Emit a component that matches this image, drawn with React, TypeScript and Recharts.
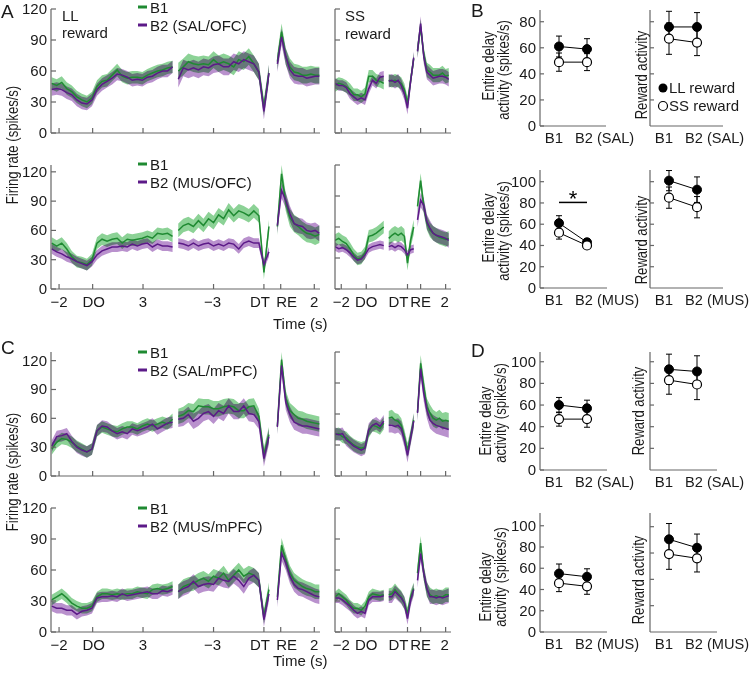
import React from 'react'
import { ComposedChart, Line, Area, XAxis, YAxis, ErrorBar, ReferenceLine } from 'recharts'

const FONT = '"Liberation Sans", Arial, sans-serif'
const GREEN = '#1f8a32'
const PURPLE = '#5c1a88'
const GREEN_BAND = '#8cd296'
const PURPLE_BAND = '#b991cd'
const AXIS = '#666'
const INK = '#1a1a1a'

// ── time axis layout ─────────────────────────────────────────────────────────
// each trace has 3 pieces: aligned on delay onset (DO), delay termination (DT), reward (RE)
// bins: [first bin time, bin step] relative to that piece's event
const LL_BINS = [[-2.44, 0.3], [-5.1, 0.3], [-0.2, 0.25]]
const SS_BINS = [[-2.5, 0.3], [-1.5, 0.25], [-0.25, 0.25]]
// where DO, DT and RE sit on the plotted axis
const LL_EVENTS = [0, 10.2, 11.2]
const SS_EVENTS = [0, 3.3, 4.35]
const LL_DOMAIN = [-2.48, 13.54]
const SS_DOMAIN = [-2.5, 6.78]
const LL_TICKS = [-2, 0, 3, 7.2, 10.2, 11.2, 13.2]
const LL_TICK_LABELS = ['−2', 'DO', '3', '−3', 'DT', 'RE', '2']
const LL_TICK_DX = [0, 1, 0, -1, -4, 6, 0]
const SS_TICKS = [-2, 0, 3.3, 4.35, 6.35]
const SS_TICK_LABELS = ['−2', 'DO', 'DT', 'RE', '2']
const SS_TICK_DX = [0, 0, -9, 0, -1]
const RATE_TICKS = [0, 30, 60, 90, 120]

// ── A: OFC, saline ───────────────────────────────────────────────────────────
const A_SAL_LL_B1 = [
  [48, 46, 49, 43, 40, 35, 32, 30, 34, 45, 50, 51, 56, 61, 55, 53, 54, 54, 53, 56, 58, 60, 61, 63, 64],
  [60, 64, 69, 67, 66, 67, 66, 71, 67, 69, 67, 64, 71, 69, 74, 67, 59, 25, 58],
  [69, 98, 74, 64, 59, 58, 56, 56, 57, 56, 56],
]
const A_SAL_LL_B2 = [
  [42, 43, 42, 39, 37, 32, 29, 28, 32, 42, 47, 50, 53, 57, 56, 54, 51, 52, 51, 54, 55, 58, 60, 60, 64],
  [52, 63, 61, 63, 61, 64, 63, 66, 67, 64, 64, 69, 67, 71, 69, 67, 59, 21, 58],
  [67, 93, 74, 61, 56, 55, 55, 53, 54, 55, 55],
]
const A_SAL_SS_B1 = [
  [46, 48, 47, 45, 42, 37, 37, 35, 38, 55, 55, 51, 50, 48],
  [51, 50, 51, 50, 48, 42, 29, 51, 72],
  [80, 103, 76, 61, 59, 56, 56, 56, 58, 55, 56],
]
const A_SAL_SS_B2 = [
  [48, 46, 46, 44, 38, 35, 32, 34, 32, 43, 51, 48, 54, 55],
  [50, 51, 49, 51, 46, 38, 24, 50, 73],
  [79, 106, 74, 59, 56, 53, 54, 55, 55, 54, 52],
]
// ── A: OFC, muscimol ─────────────────────────────────────────────────────────
const A_MUS_LL_B1 = [
  [47, 44, 47, 41, 33, 28, 27, 25, 30, 47, 51, 49, 51, 52, 47, 51, 50, 51, 52, 54, 52, 57, 56, 57, 54],
  [60, 65, 67, 64, 70, 65, 72, 68, 76, 72, 81, 75, 80, 78, 75, 80, 75, 17, 64],
  [64, 118, 89, 73, 67, 64, 60, 57, 56, 54, 56],
]
const A_MUS_LL_B2 = [
  [41, 38, 36, 33, 31, 28, 26, 24, 28, 35, 39, 41, 43, 43, 44, 43, 46, 44, 46, 47, 43, 46, 44, 44, 43],
  [47, 46, 44, 47, 44, 46, 47, 44, 46, 44, 47, 46, 41, 47, 49, 47, 47, 25, 38],
  [65, 101, 91, 77, 67, 65, 64, 60, 59, 60, 57],
]
const A_MUS_SS_B1 = [
  [47, 49, 46, 44, 39, 33, 29, 30, 35, 51, 52, 54, 57, 60],
  [49, 52, 54, 52, 54, 51, 25, 47, 60],
  [80, 105, 80, 64, 57, 54, 52, 50, 49, 48, 49],
]
const A_MUS_SS_B2 = [
  [41, 39, 40, 38, 35, 31, 28, 29, 33, 39, 41, 42, 43, 42],
  [41, 42, 40, 42, 41, 38, 33, 38, 39],
  [67, 86, 81, 65, 59, 54, 52, 51, 50, 49, 47],
]
// ── C: mPFC, saline ──────────────────────────────────────────────────────────
const C_SAL_LL_B1 = [
  [28, 35, 39, 38, 35, 31, 28, 25, 28, 47, 51, 49, 47, 46, 49, 51, 51, 49, 52, 54, 52, 54, 56, 54, 59],
  [62, 64, 68, 67, 73, 72, 72, 70, 70, 72, 73, 72, 68, 68, 72, 73, 62, 22, 43],
  [52, 121, 81, 68, 64, 60, 59, 57, 56, 55, 54],
]
const C_SAL_LL_B2 = [
  [31, 41, 42, 44, 36, 30, 27, 25, 28, 47, 52, 51, 47, 44, 46, 44, 49, 47, 49, 51, 54, 49, 52, 55, 56],
  [59, 60, 64, 57, 60, 65, 67, 62, 68, 65, 73, 67, 67, 73, 65, 64, 57, 18, 41],
  [51, 115, 77, 64, 56, 54, 52, 52, 51, 50, 49],
]
const C_SAL_SS_B1 = [
  [40, 41, 38, 37, 33, 30, 28, 27, 28, 43, 49, 48, 46, 51],
  [56, 57, 54, 53, 49, 38, 25, 38, 54],
  [62, 109, 87, 67, 61, 56, 54, 56, 53, 54, 53],
]
const C_SAL_SS_B2 = [
  [41, 40, 41, 35, 32, 29, 27, 25, 27, 45, 49, 51, 48, 53],
  [49, 49, 48, 49, 46, 35, 20, 37, 53],
  [61, 104, 80, 64, 54, 51, 49, 48, 47, 46, 45],
]
// ── C: mPFC, muscimol ────────────────────────────────────────────────────────
const C_MUS_LL_B1 = [
  [31, 34, 37, 33, 28, 25, 23, 23, 25, 34, 37, 37, 36, 37, 36, 37, 37, 39, 38, 37, 41, 42, 41, 42, 44],
  [39, 44, 46, 47, 50, 52, 49, 54, 52, 57, 50, 55, 60, 54, 57, 55, 50, 15, 41],
  [34, 84, 70, 57, 50, 47, 44, 42, 41, 39, 39],
]
const C_MUS_LL_B2 = [
  [25, 23, 23, 21, 21, 17, 20, 21, 23, 33, 34, 34, 35, 34, 37, 35, 36, 37, 38, 39, 37, 37, 40, 39, 41],
  [39, 42, 44, 49, 44, 46, 47, 46, 52, 50, 49, 54, 50, 44, 52, 55, 50, 12, 37],
  [31, 76, 67, 54, 46, 42, 41, 39, 37, 35, 34],
]
const C_MUS_SS_B1 = [
  [34, 37, 34, 31, 26, 23, 23, 21, 25, 34, 37, 36, 35, 36],
  [36, 37, 41, 37, 34, 28, 18, 34, 42],
  [57, 86, 57, 41, 36, 34, 35, 34, 34, 36, 36],
]
const C_MUS_SS_B2 = [
  [33, 33, 31, 28, 25, 21, 18, 20, 18, 31, 34, 34, 34, 35],
  [34, 34, 39, 36, 33, 28, 13, 31, 41],
  [50, 76, 57, 42, 34, 34, 33, 34, 33, 34, 35],
]
// s.e.m. per piece [DO, DT, RE]
const A_SAL_SEM = { llB1: [6, 8, 8], llB2: [6, 8, 8], ssB1: [6, 6, 7], ssB2: [5, 6, 7] }
const A_MUS_SEM = { llB1: [6, 7, 9], llB2: [5, 5, 8], ssB1: [6, 7, 7], ssB2: [4, 4, 7] }
const C_SAL_SEM = { llB1: [6, 8, 8], llB2: [6, 8, 8], ssB1: [6, 7, 8], ssB2: [6, 7, 8] }
const C_MUS_SEM = { llB1: [5, 7, 7], llB2: [5, 7, 7], ssB1: [5, 6, 7], ssB2: [5, 6, 7] }

// ── B / D summary points [B1, B2] ────────────────────────────────────────────
const B_SAL_DELAY_LL = [61, 59]
const B_SAL_DELAY_LL_ERR = [8, 8]
const B_SAL_DELAY_SS = [49, 49]
const B_SAL_DELAY_SS_ERR = [7, 6.5]
const B_SAL_REWARD_LL = [76, 76]
const B_SAL_REWARD_LL_ERR = [12, 11]
const B_SAL_REWARD_SS = [67, 64]
const B_SAL_REWARD_SS_ERR = [12, 10]
const B_MUS_DELAY_LL = [61, 43]
const B_MUS_DELAY_LL_ERR = [7, 3]
const B_MUS_DELAY_SS = [52, 40]
const B_MUS_DELAY_SS_ERR = [6, 2]
const B_MUS_REWARD_LL = [101, 92.5]
const B_MUS_REWARD_LL_ERR = [9.5, 12]
const B_MUS_REWARD_SS = [85, 76]
const B_MUS_REWARD_SS_ERR = [10, 10]
const D_SAL_DELAY_LL = [60, 57]
const D_SAL_DELAY_LL_ERR = [7, 7.5]
const D_SAL_DELAY_SS = [47, 47]
const D_SAL_DELAY_SS_ERR = [6.5, 7.5]
const D_SAL_REWARD_LL = [93, 91]
const D_SAL_REWARD_LL_ERR = [14, 14.5]
const D_SAL_REWARD_SS = [83, 79]
const D_SAL_REWARD_SS_ERR = [13, 14]
const D_MUS_DELAY_LL = [55, 52]
const D_MUS_DELAY_LL_ERR = [9, 7.5]
const D_MUS_DELAY_SS = [46, 43]
const D_MUS_DELAY_SS_ERR = [8, 7.5]
const D_MUS_REWARD_LL = [88, 80]
const D_MUS_REWARD_LL_ERR = [15, 13]
const D_MUS_REWARD_SS = [74, 70]
const D_MUS_REWARD_SS_ERR = [14.5, 13]
const B_MUS_SIG_Y = 80.5

type Row = { u: number; g: number | null; p: number | null; gBand: number[] | null; pBand: number[] | null }

function buildRows(b1: number[][], b2: number[][], sem1: number[], sem2: number[], bins: number[][], events: number[]) {
  const rows: Row[] = []
  b1.forEach((seg, s) => {
    const [start, step] = bins[s]
    seg.forEach((g, i) => {
      const p = b2[s][i]
      rows.push({
        u: events[s] + start + i * step, g, p,
        gBand: [g - sem1[s], g + sem1[s]],
        pBand: [p - sem2[s], p + sem2[s]],
      })
    })
    // break the trace between pieces
    if (s < b1.length - 1) rows.push({ u: rows[rows.length - 1].u + 0.05, g: null, p: null, gBand: null, pBand: null })
  })
  return rows
}

// ── time course panel ────────────────────────────────────────────────────────

function TimePanel({ rows, kind, top, xLabels, yLabels }: {
  rows: Row[]; kind: 'LL' | 'SS'; top: number; xLabels: boolean; yLabels: boolean
}) {
  const isLL = kind === 'LL'
  const axisX = isLL ? 51 : 335
  const plotW = isLL ? 269 : 116
  const yw = isLL ? 51 : 30
  const padT = 8, padR = 8, xh = 26, plotH = 124
  const ticks = isLL ? LL_TICKS : SS_TICKS
  const tickLabels = isLL ? LL_TICK_LABELS : SS_TICK_LABELS
  const tickDx = isLL ? LL_TICK_DX : SS_TICK_DX

  const xTick = ({ x, y, payload }: any) => {
    const idx = ticks.indexOf(payload.value)
    return (
      <g>
        <line x1={x} x2={x} y1={y} y2={y - 5} stroke={AXIS} strokeWidth={1.2} />
        {xLabels && (
          <text x={x + tickDx[idx]} y={y + 18} textAnchor="middle" fontSize={15} fill={INK}>{tickLabels[idx]}</text>
        )}
      </g>
    )
  }
  const yTick = ({ x, y, payload }: any) => (
    <g>
      <line x1={x} x2={x + 5} y1={y} y2={y} stroke={AXIS} strokeWidth={1.2} />
      {yLabels && <text x={x - 4} y={y + 5} textAnchor="end" fontSize={15} fill={INK}>{payload.value}</text>}
    </g>
  )

  return (
    <div style={{ position: 'absolute', left: axisX - yw, top: top - padT }}>
      <ComposedChart width={yw + plotW + padR} height={padT + plotH + xh} data={rows}
        margin={{ top: padT, right: padR, left: 0, bottom: 0 }}>
        <XAxis dataKey="u" type="number" domain={isLL ? LL_DOMAIN : SS_DOMAIN} allowDataOverflow
          ticks={ticks} interval={0} tickSize={0} tickMargin={0} tickLine={false}
          axisLine={{ stroke: AXIS, strokeWidth: 1.2 }} height={xh} tick={xTick} />
        <YAxis type="number" domain={[0, 120]} ticks={RATE_TICKS} interval={0} tickSize={0} tickMargin={0}
          tickLine={false} axisLine={{ stroke: AXIS, strokeWidth: 1.2 }} width={yw} tick={yTick} />
        <Area dataKey="gBand" type="linear" fill={GREEN_BAND} fillOpacity={1} stroke="none"
          className="band" dot={false} activeDot={false} connectNulls={false} isAnimationActive={false} />
        <Area dataKey="pBand" type="linear" fill={PURPLE_BAND} fillOpacity={1} stroke="none"
          className="band" dot={false} activeDot={false} connectNulls={false} isAnimationActive={false} />
        <Line dataKey="g" type="linear" stroke={GREEN} strokeWidth={1.5} dot={false} activeDot={false}
          connectNulls={false} isAnimationActive={false} />
        <Line dataKey="p" type="linear" stroke={PURPLE} strokeWidth={1.5} dot={false} activeDot={false}
          connectNulls={false} isAnimationActive={false} />
      </ComposedChart>
    </div>
  )
}

// ── B1 / B2 summary panel ────────────────────────────────────────────────────

function DotPanel({ axisLeft, axisRight, top, bottom, yMax, ticks, labels, ll, llErr, ss, ssErr, cond, sigY }: {
  axisLeft: number; axisRight: number; top: number; bottom: number; yMax: number; ticks: number[]
  labels: boolean; ll: number[]; llErr: number[]; ss: number[]; ssErr: number[]; cond: string; sigY?: number
}) {
  const data = [1, 2].map((x, i) => ({ x, ll: ll[i], ss: ss[i], llErr: llErr[i], ssErr: ssErr[i] }))
  const yw = 40, padT = 6, padR = 40, xh = 26
  const domain = [1 - 19 / 28, 1 + (axisRight - axisLeft + padR - 19) / 28]

  const xTick = ({ x, y, payload }: any) => (
    payload.value === 1
      ? <text x={x - 5} y={y + 17} textAnchor="middle" fontSize={15} fill={INK}>B1</text>
      : <text x={x - 12} y={y + 17} textAnchor="start" fontSize={14.6} fill={INK}>B2 ({cond})</text>
  )
  const yTick = ({ x, y, payload }: any) => (
    <g>
      <line x1={x} x2={x + 4} y1={y} y2={y} stroke={AXIS} strokeWidth={1.2} />
      {labels && <text x={x - 4} y={y + 5} textAnchor="end" fontSize={15} fill={INK}>{payload.value}</text>}
    </g>
  )

  return (
    <div style={{ position: 'absolute', left: axisLeft - yw, top: top - padT }}>
      <ComposedChart width={yw + (axisRight - axisLeft) + padR} height={padT + (bottom - top) + xh} data={data}
        margin={{ top: padT, right: 0, left: 0, bottom: 0 }}>
        <XAxis dataKey="x" type="number" domain={domain} allowDataOverflow ticks={[1, 2]} interval={0}
          tickSize={0} tickMargin={0} tickLine={false} axisLine={false} height={xh} tick={xTick} />
        <YAxis type="number" domain={[0, yMax]} allowDataOverflow ticks={ticks} interval={0} tickSize={0}
          tickMargin={0} tickLine={false} axisLine={{ stroke: AXIS, strokeWidth: 1.2 }} width={yw} tick={yTick} />
        {/* x axis line stops short of the label overhang */}
        <ReferenceLine segment={[{ x: domain[0], y: 0 }, { x: 1 + (axisRight - axisLeft - 19) / 28, y: 0 }]}
          stroke={AXIS} strokeWidth={1.2} />
        {sigY !== undefined && (
          <ReferenceLine segment={[{ x: 1, y: sigY }, { x: 2, y: sigY }]} stroke="#000" strokeWidth={1.5}
            label={{ value: '*', position: 'top', fontSize: 22, fill: '#000', offset: -4 }} />
        )}
        <Line dataKey="ll" type="linear" stroke="#000" strokeWidth={1} isAnimationActive={false}
          dot={{ r: 4.5, fill: '#000', stroke: '#000', strokeWidth: 1 }} activeDot={false}>
          <ErrorBar dataKey="llErr" width={3} stroke="#000" strokeWidth={1} direction="y" />
        </Line>
        <Line dataKey="ss" type="linear" stroke="#000" strokeWidth={1} isAnimationActive={false}
          dot={{ r: 4.5, fill: '#fff', stroke: '#000', strokeWidth: 1.2 }} activeDot={false}>
          <ErrorBar dataKey="ssErr" width={3} stroke="#000" strokeWidth={1} direction="y" />
        </Line>
      </ComposedChart>
    </div>
  )
}

// ── text overlay ─────────────────────────────────────────────────────────────

function VText({ x, y, children }: { x: number; y: number; children: string }) {
  return (
    <text transform={`translate(${x},${y}) rotate(-90) scale(0.77,1)`} textAnchor="middle"
      dominantBaseline="central" fontSize={17} fill={INK}>{children}</text>
  )
}

function TraceLegend({ y, label }: { y: number; label: string }) {
  return (
    <g fontSize={15} fill={INK}>
      <line x1={138} x2={147} y1={y} y2={y} stroke={GREEN} strokeWidth={3} />
      <text x={150} y={y + 6}>B1</text>
      <line x1={138} x2={147} y1={y + 18} y2={y + 18} stroke={PURPLE} strokeWidth={3} />
      <text x={150} y={y + 24}>{label}</text>
    </g>
  )
}

function Overlay() {
  return (
    <svg width={750} height={679} style={{ position: 'absolute', left: 0, top: 0, pointerEvents: 'none' }}
      fontFamily={FONT}>
      <g fontSize={19} fill={INK}>
        <text x={1} y={18}>A</text>
        <text x={471} y={17}>B</text>
        <text x={1} y={354}>C</text>
        <text x={471} y={357}>D</text>
      </g>
      <g fontSize={15} fill={INK}>
        <text x={62} y={21}>LL</text>
        <text x={62} y={38}>reward</text>
        <text x={345} y={21}>SS</text>
        <text x={345} y={39}>reward</text>
        <text x={273} y={329}>Time (s)</text>
        <text x={273} y={666}>Time (s)</text>
      </g>
      <TraceLegend y={7} label="B2 (SAL/OFC)" />
      <TraceLegend y={164} label="B2 (MUS/OFC)" />
      <TraceLegend y={352} label="B2 (SAL/mPFC)" />
      <TraceLegend y={508} label="B2 (MUS/mPFC)" />
      <VText x={12} y={145}>Firing rate (spikes/s)</VText>
      <VText x={12} y={472}>Firing rate (spikes/s)</VText>

      <VText x={488} y={66}>Entire delay</VText>
      <VText x={503} y={70}>activity (spikes/s)</VText>
      <VText x={641} y={75}>Reward activity</VText>
      <VText x={488} y={228}>Entire delay</VText>
      <VText x={503} y={231}>activity (spikes/s)</VText>
      <VText x={641} y={240}>Reward activity</VText>
      <VText x={485} y={421}>Entire delay</VText>
      <VText x={500} y={413}>activity (spikes/s)</VText>
      <VText x={638} y={411}>Reward activity</VText>
      <VText x={485} y={587}>Entire delay</VText>
      <VText x={500} y={577}>activity (spikes/s)</VText>
      <VText x={638} y={580}>Reward activity</VText>

      <g fontSize={15} fill={INK}>
        <circle cx={663} cy={88} r={4.5} fill="#000" />
        <text x={669} y={93}>LL reward</text>
        <circle cx={663} cy={106} r={4.5} fill="#fff" stroke="#000" strokeWidth={1.2} />
        <text x={669} y={111}>SS reward</text>
      </g>
    </svg>
  )
}

export default function App() {
  const rowTops = [9, 165, 352, 508]
  const panels = [
    { ll: buildRows(A_SAL_LL_B1, A_SAL_LL_B2, A_SAL_SEM.llB1, A_SAL_SEM.llB2, LL_BINS, LL_EVENTS),
      ss: buildRows(A_SAL_SS_B1, A_SAL_SS_B2, A_SAL_SEM.ssB1, A_SAL_SEM.ssB2, SS_BINS, SS_EVENTS), labels: false },
    { ll: buildRows(A_MUS_LL_B1, A_MUS_LL_B2, A_MUS_SEM.llB1, A_MUS_SEM.llB2, LL_BINS, LL_EVENTS),
      ss: buildRows(A_MUS_SS_B1, A_MUS_SS_B2, A_MUS_SEM.ssB1, A_MUS_SEM.ssB2, SS_BINS, SS_EVENTS), labels: true },
    { ll: buildRows(C_SAL_LL_B1, C_SAL_LL_B2, C_SAL_SEM.llB1, C_SAL_SEM.llB2, LL_BINS, LL_EVENTS),
      ss: buildRows(C_SAL_SS_B1, C_SAL_SS_B2, C_SAL_SEM.ssB1, C_SAL_SEM.ssB2, SS_BINS, SS_EVENTS), labels: false },
    { ll: buildRows(C_MUS_LL_B1, C_MUS_LL_B2, C_MUS_SEM.llB1, C_MUS_SEM.llB2, LL_BINS, LL_EVENTS),
      ss: buildRows(C_MUS_SS_B1, C_MUS_SS_B2, C_MUS_SEM.ssB1, C_MUS_SEM.ssB2, SS_BINS, SS_EVENTS), labels: true },
  ]
  const t20 = [0, 20, 40, 60, 80, 100]

  return (
    <div style={{ position: 'absolute', left: 0, top: 0, width: 750, height: 679, background: '#fff',
      fontFamily: FONT, overflow: 'hidden' }}>
      <style>{'.band { mix-blend-mode: multiply; }'}</style>
      {panels.map((p, i) => (
        <React.Fragment key={i}>
          <TimePanel rows={p.ll} kind="LL" top={rowTops[i]} xLabels={p.labels} yLabels />
          <TimePanel rows={p.ss} kind="SS" top={rowTops[i]} xLabels={p.labels} yLabels={false} />
        </React.Fragment>
      ))}

      <DotPanel axisLeft={540} axisRight={606} top={10} bottom={126} yMax={89} ticks={[0, 20, 40, 60, 80]} labels
        ll={B_SAL_DELAY_LL} llErr={B_SAL_DELAY_LL_ERR} ss={B_SAL_DELAY_SS} ssErr={B_SAL_DELAY_SS_ERR} cond="SAL" />
      <DotPanel axisLeft={650} axisRight={723} top={10} bottom={126} yMax={89} ticks={[20, 40, 60, 80]} labels={false}
        ll={B_SAL_REWARD_LL} llErr={B_SAL_REWARD_LL_ERR} ss={B_SAL_REWARD_SS} ssErr={B_SAL_REWARD_SS_ERR} cond="SAL" />
      <DotPanel axisLeft={540} axisRight={607} top={170} bottom={288} yMax={111} ticks={t20} labels
        ll={B_MUS_DELAY_LL} llErr={B_MUS_DELAY_LL_ERR} ss={B_MUS_DELAY_SS} ssErr={B_MUS_DELAY_SS_ERR} cond="MUS"
        sigY={B_MUS_SIG_Y} />
      <DotPanel axisLeft={650} axisRight={723} top={170} bottom={288} yMax={111} ticks={t20.slice(1)} labels={false}
        ll={B_MUS_REWARD_LL} llErr={B_MUS_REWARD_LL_ERR} ss={B_MUS_REWARD_SS} ssErr={B_MUS_REWARD_SS_ERR} cond="MUS" />

      <DotPanel axisLeft={540} axisRight={607} top={352} bottom={470} yMax={109} ticks={t20} labels
        ll={D_SAL_DELAY_LL} llErr={D_SAL_DELAY_LL_ERR} ss={D_SAL_DELAY_SS} ssErr={D_SAL_DELAY_SS_ERR} cond="SAL" />
      <DotPanel axisLeft={650} axisRight={717} top={352} bottom={470} yMax={109} ticks={t20.slice(1)} labels={false}
        ll={D_SAL_REWARD_LL} llErr={D_SAL_REWARD_LL_ERR} ss={D_SAL_REWARD_SS} ssErr={D_SAL_REWARD_SS_ERR} cond="SAL" />
      <DotPanel axisLeft={540} axisRight={607} top={513} bottom={632} yMax={112} ticks={t20} labels
        ll={D_MUS_DELAY_LL} llErr={D_MUS_DELAY_LL_ERR} ss={D_MUS_DELAY_SS} ssErr={D_MUS_DELAY_SS_ERR} cond="MUS" />
      <DotPanel axisLeft={650} axisRight={717} top={513} bottom={632} yMax={113} ticks={[25, 50, 75, 100]} labels={false}
        ll={D_MUS_REWARD_LL} llErr={D_MUS_REWARD_LL_ERR} ss={D_MUS_REWARD_SS} ssErr={D_MUS_REWARD_SS_ERR} cond="MUS" />

      <Overlay />
    </div>
  )
}
